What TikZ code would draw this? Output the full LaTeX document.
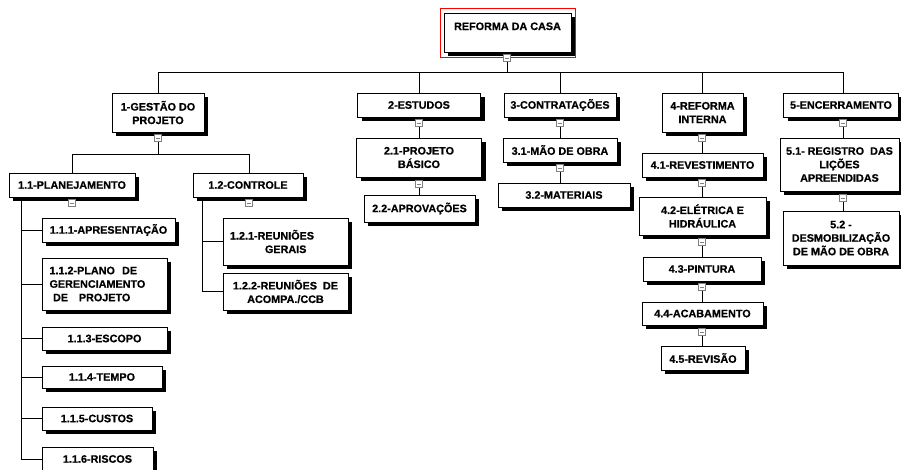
\documentclass[tikz,border=0pt]{standalone}
\usepackage{fontspec}
\setmainfont{Liberation Sans}[BoldFeatures={FakeBold=0.6}]
\usepackage{tikz}
\usetikzlibrary{shadows}

\begin{document}
\begin{tikzpicture}[x=1pt,y=-1pt,
  caixa/.style={draw,fill=white,line width=1pt,inner sep=1pt,align=center,
    font=\bfseries\fontsize{10.8}{13.5}\selectfont,
    drop shadow={shadow xshift=4pt,shadow yshift=-4pt,opacity=1,fill=black}},
  botao/.style={draw=gray,fill=white,line width=0.6pt,minimum size=7.5pt,inner sep=0pt,
    path picture={\draw[line width=0.8pt] ([xshift=-2.2pt]path picture bounding box.center)
      -- ([xshift=2.2pt]path picture bounding box.center);}},
  liga/.style={line width=0.8pt}]
\useasboundingbox (0,0) rectangle (901,469);

% topo
\node[caixa,minimum width=127pt,text height=16pt,text depth=21pt] (raiz) at (507.5,32.5) {REFORMA DA CASA};
\draw[red,line width=0.9pt] ([xshift=-3pt,yshift=4pt]raiz.north west) rectangle ([xshift=4pt,yshift=-5pt]raiz.south east);

% nivel 1
\node[caixa,minimum width=92pt,minimum height=39pt] (g) at (158,112.5) {1-GESTÃO DO\\PROJETO};
\node[caixa,minimum width=123pt,minimum height=24pt] (e) at (419,105) {2-ESTUDOS};
\node[caixa,minimum width=112pt,minimum height=24pt] (c) at (560,105) {3-CONTRATAÇÕES};
\node[caixa,minimum width=81pt,minimum height=39pt] (r) at (702.5,112.5) {4-REFORMA\\INTERNA};
\node[caixa,minimum width=115pt,minimum height=24pt] (n) at (841,105) {5-ENCERRAMENTO};

% 1-gestao
\node[caixa,minimum width=126pt,minimum height=24pt] (g1) at (72,185) {1.1-PLANEJAMENTO};
\node[caixa,minimum width=110pt,minimum height=24pt] (g2) at (248,185) {1.2-CONTROLE};

\node[caixa,minimum width=133pt,minimum height=24pt] (g11) at (108.5,230) {1.1.1-APRESENTAÇÃO};
\node[caixa,minimum width=125pt,minimum height=52pt,align=left,text width=110pt] (g12) at (104.5,284) {1.1.2-PLANO\ \ DE\\GERENCIAMENTO\\\ DE\ \ \ PROJETO};
\node[caixa,minimum width=125pt,minimum height=23pt] (g13) at (104.5,338.5) {1.1.3-ESCOPO};
\node[caixa,minimum width=120pt,minimum height=22pt] (g14) at (102,377) {1.1.4-TEMPO};
\node[caixa,minimum width=110pt,minimum height=23pt] (g15) at (97,418.5) {1.1.5-CUSTOS};
\node[caixa,minimum width=111pt,minimum height=24pt] (g16) at (97.5,459) {1.1.6-RISCOS};

\node[caixa,minimum width=125pt,minimum height=47pt,align=left,text width=111pt] (g21) at (285.5,241.5) {1.2.1-REUNIÕES\\\hspace*{35pt}GERAIS};
\node[caixa,minimum width=125pt,minimum height=37pt] (g22) at (285.5,291.5) {1.2.2-REUNIÕES\ \ DE\\ACOMPA./CCB};

% 2-estudos
\node[caixa,minimum width=125pt,minimum height=39pt] (e1) at (419,157.5) {2.1-PROJETO\\BÁSICO};
\node[caixa,minimum width=111pt,minimum height=27pt] (e2) at (419.5,208.5) {2.2-APROVAÇÕES};

% 3-contratacoes
\node[caixa,minimum width=114pt,minimum height=24pt] (c1) at (560,150) {3.1-MÃO DE OBRA};
\node[caixa,minimum width=132pt,minimum height=24pt] (c2) at (564,195) {3.2-MATERIAIS};

% 4-reforma interna
\node[caixa,minimum width=121pt,minimum height=24pt] (r1) at (702.5,165) {4.1-REVESTIMENTO};
\node[caixa,minimum width=127pt,minimum height=38pt] (r2) at (702.5,216) {4.2-ELÉTRICA E\\HIDRÁULICA};
\node[caixa,minimum width=118pt,minimum height=24pt] (r3) at (702,269) {4.3-PINTURA};
\node[caixa,minimum width=121pt,minimum height=23pt] (r4) at (702.5,313.5) {4.4-ACABAMENTO};
\node[caixa,minimum width=84pt,minimum height=24pt] (r5) at (703,358) {4.5-REVISÃO};

% 5-encerramento
\node[caixa,minimum width=119pt,minimum height=53pt] (n1) at (839.5,164.5) {5.1- REGISTRO\ \ DAS\\LIÇÕES\\APREENDIDAS};
\node[caixa,minimum width=116pt,minimum height=54pt] (n2) at (841,238) {5.2 -\\DESMOBILIZAÇÃO\\DE MÃO DE OBRA};

% botoes de recolher
\foreach \nome/\pos in {t0/{(507,58)}, tg/{(158,138)}, tg1/{(72,203)}, tg2/{(249,203)},
    te/{(419,123)}, te1/{(419,184)}, tc/{(560,123)}, tc1/{(560,168)},
    tr/{(702,138)}, tr1/{(702,183)}, tr2/{(702,242)}, tr3/{(702,287)}, tr4/{(702,332)},
    tn/{(843,123)}, tn1/{(843,198)}}{
    \node[botao] (\nome) at \pos {};
}

% ligacoes
\coordinate (h0) at (507,72);
\draw[liga] (t0) -- (h0);
\foreach \f in {g,e,c,r,tn}{
    \draw[liga] (h0) -| (\f |- g.north);
}
\coordinate (hg) at (158,154);
\draw[liga] (tg) -- (hg);
\draw[liga] (hg) -| (g1.north);
\draw[liga] (hg) -| (tg2 |- g2.north);

\coordinate (v1) at ([xshift=13pt]g1.south west);
\foreach \f in {g11,g12,g13,g14,g15,g16}{
    \draw[liga] (v1) |- (\f.west);
}
\coordinate (v2) at ([xshift=10pt]g2.south west);
\foreach \f in {g21,g22}{
    \draw[liga] (v2) |- (\f.west);
}

\foreach \a/\b in {te/e1, te1/e2, tc/c1, tc1/c2, tr/r1, tr1/r2, tr2/r3, tr3/r4, tr4/r5, tn/n1, tn1/n2}{
    \draw[liga] (\a.south) -- (\a.south |- \b.north);
}

\end{tikzpicture}
\end{document}
